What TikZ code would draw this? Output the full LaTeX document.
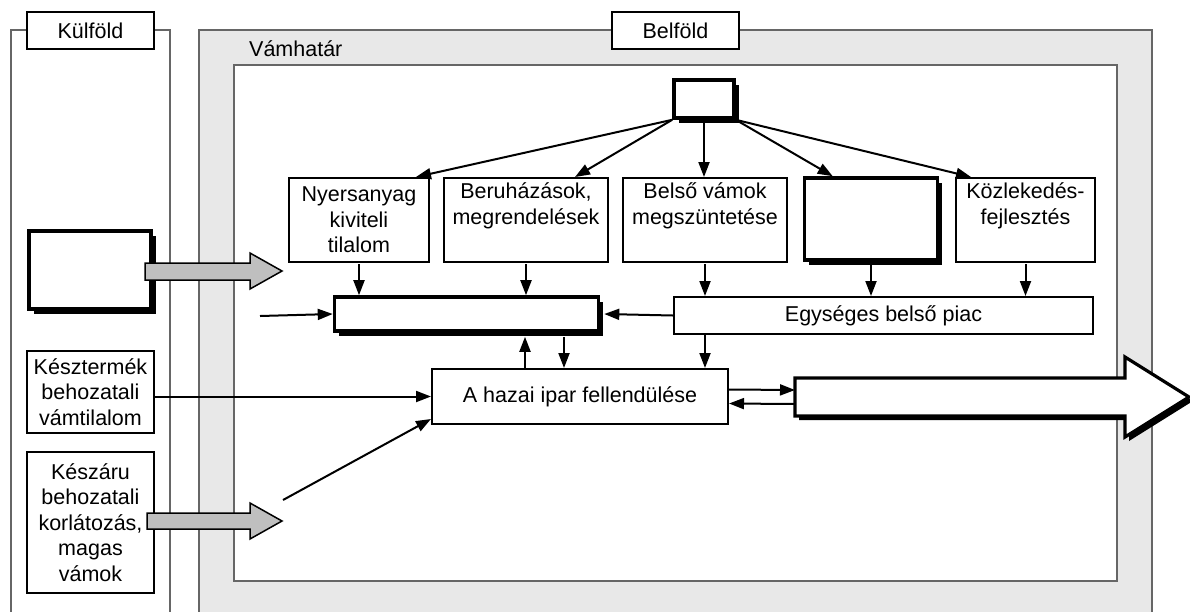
\documentclass[tikz,border=0pt]{standalone}
\usepackage{fontspec}
\setmainfont{Liberation Sans}
\usetikzlibrary{arrows.meta,shadows}

\begin{document}
\begin{tikzpicture}[x=1pt,y=-1pt,
    box/.style={draw,line width=2pt,fill=white,inner sep=0pt,align=center,font=\fontsize{21.5}{25.5}\selectfont},
    thickbox/.style={box,line width=3.6pt,drop shadow={shadow xshift=4.5pt,shadow yshift=-4.5pt,fill=black,opacity=1}},
    conn/.style={line width=2pt,-{Triangle[length=15pt,width=11pt]}},
    framecol/.style={draw=black!60,line width=2pt},
    grayarrow/.style={fill=black!25,draw=black,line width=1.5pt}]

    \useasboundingbox (0,0) rectangle (1190,611);

    % frames ↓
    \fill[black!9] (199,30) rectangle (1152,640);
    \draw[framecol] (199,640) -- (199,30) -- (1152,30) -- (1152,640);
    \draw[framecol,fill=white] (234,65) rectangle (1117,581);
    \draw[framecol] (11,640) -- (11,30) -- (170,30) -- (170,640);

    \node[box,minimum width=127,minimum height=37] (kulfold) at (90.5,30.5) {Külföld};
    \node[box,minimum width=127,minimum height=37] (belfold) at (675.5,30.5) {Belföld};
    \node[font=\fontsize{21.5}{25.5}\selectfont,anchor=west,inner sep=0pt] (vamhatar) at (249,49) {Vámhatár};

    % inside ↓
    \node[thickbox,minimum width=60,minimum height=38] (forras) at (704,99) {};

    \node[box,minimum width=140,minimum height=84] (nyers) at (359,220) {Nyersanyag\\kiviteli\\tilalom};
    \node[box,minimum width=164,minimum height=84] (beruh) at (526,220) {Beruházások,\\megrendelések\\\strut};
    \node[box,minimum width=164,minimum height=84] (belso) at (705,220) {Belső vámok\\megszüntetése\\\strut};
    \node[thickbox,minimum width=133,minimum height=82] (ures) at (871,219) {};
    \node[box,minimum width=139,minimum height=84] (kozl) at (1025.5,220) {Közlekedés-\\fejlesztés\\\strut};

    \node[thickbox,minimum width=264,minimum height=34] (kozep) at (466.5,314) {};
    \node[box,minimum width=419,minimum height=37] (egyseg) at (883.5,315.5) {Egységes belső piac};
    \node[box,minimum width=296,minimum height=55] (hazai) at (580,396.5) {A hazai ipar fellendülése};

    % outside ↓
    \node[thickbox,minimum width=122,minimum height=78] (bal) at (90,270) {};
    \node[box,minimum width=127,minimum height=82] (kesz) at (90.5,392) {Késztermék\\behozatali\\vámtilalom};
    \node[box,minimum width=127,minimum height=141] (keszaru) at (90.5,522.5) {Készáru\\behozatali\\korlátozás,\\magas\\vámok};

    % block arrows ↓
    \draw[grayarrow] (145,263) -- (250,263) -- (250,253) -- (282,271) -- (250,289) -- (250,280) -- (145,280) -- cycle;
    \draw[grayarrow] (147,513) -- (250,513) -- (250,503) -- (282,521) -- (250,539) -- (250,529) -- (147,529) -- cycle;

    \fill[black,shift={(4,4)}] (795,378) -- (1125,378) -- (1125,357) -- (1189,397) -- (1125,437) -- (1125,416) -- (795,416) -- cycle;
    \draw[fill=white,line width=3.2pt] (795,378) -- (1125,378) -- (1125,357) -- (1189,397) -- (1125,437) -- (1125,416) -- (795,416) -- cycle;
    \coordinate (kivitel) at (795,397);

    % connectors ↓
    \draw[conn] (forras.south west) -- ([xshift=-14]nyers.north east);
    \draw[conn] (forras.south west) -- ([xshift=49]beruh.north);
    \draw[conn] (forras.south) -- (forras.south |- belso.north);
    \draw[conn] (forras.south east) -- ([xshift=30]ures.north west);
    \draw[conn] (forras.south east) -- ([xshift=16]kozl.north west);

    \foreach \n/\t in {nyers/kozep,beruh/kozep,belso/egyseg,ures/egyseg,kozl/egyseg}
        \draw[conn] ([yshift=-1]\n.south) -- (\n.south |- \t.north);

    \draw[conn] (egyseg.west) -- ([xshift=4]kozep.east);
    \coordinate (bemenet) at (260,316);
    \draw[conn] (bemenet) -- (kozep.west);

    \draw[conn] ([xshift=-55]hazai.north) -- ([xshift=-55,yshift=-4]hazai.north |- kozep.south);
    \draw[conn] ([xshift=-16,yshift=-4]hazai.north |- kozep.south) -- ([xshift=-16]hazai.north);
    \draw[conn] (belso.south |- egyseg.south) -- (belso.south |- hazai.north);

    \draw[conn] ([yshift=7]hazai.east) -- ([yshift=7]kivitel);
    \draw[conn] ([yshift=-7]kivitel) -- ([yshift=-7]hazai.east);

    \draw[conn] (kesz.east |- hazai.west) -- (hazai.west);
    \coordinate (keszaruvege) at (283,500);
    \draw[conn] (keszaruvege) -- ([yshift=6]hazai.south west);

\end{tikzpicture}
\end{document}
